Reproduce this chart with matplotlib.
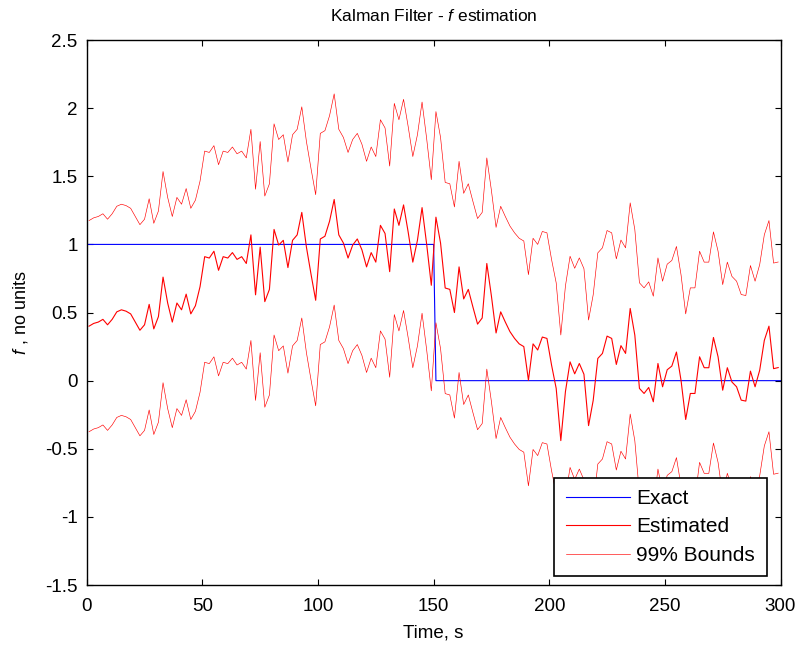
import matplotlib
matplotlib.use("Agg")
import matplotlib.pyplot as plt
import numpy as np

plt.rcParams['font.family'] = ['Liberation Sans', 'DejaVu Sans']
plt.rcParams['mathtext.fontset'] = 'custom'
plt.rcParams['mathtext.it'] = 'Liberation Sans:italic'
plt.rcParams['mathtext.rm'] = 'Liberation Sans'

# estimate sampled every 2 s, starting at t = 1 s
time = np.arange(1, 300, 2)
estimated = [
    0.40, 0.42, 0.43, 0.45, 0.41, 0.45, 0.505, 0.52, 0.51, 0.49,
    0.43, 0.37, 0.41, 0.56, 0.38, 0.47, 0.76, 0.57, 0.43, 0.57,
    0.52, 0.635, 0.49, 0.55, 0.69, 0.91,
    0.90, 0.95, 0.81, 0.91, 0.90, 0.94, 0.89, 0.91, 0.86, 1.07,
    0.63, 0.98, 0.58, 0.67, 1.11, 0.995, 1.03, 0.83, 1.03, 1.07,
    1.235, 0.98, 0.78, 0.59,
    1.04, 1.06, 1.17, 1.33, 1.07, 1.01, 0.90, 0.995, 1.04, 0.96,
    0.835, 0.94, 0.87, 1.14, 1.08, 0.80, 1.26, 1.14, 1.29, 1.09,
    0.87, 1.03, 1.27, 1.00, 0.70,
    1.20, 1.01, 0.68, 0.67, 0.50, 0.835, 0.60, 0.67, 0.54, 0.415,
    0.46, 0.86, 0.62, 0.35, 0.505, 0.43, 0.36, 0.31, 0.27, 0.25,
    0.003, 0.27, 0.225, 0.32, 0.31,
    0.114, -0.057, -0.44, -0.08, 0.138, 0.05, 0.126, 0.047, -0.33, -0.145,
    0.163, 0.20, 0.327, 0.31, 0.119, 0.257, 0.20, 0.53, 0.334, -0.057,
    -0.094, -0.05, -0.155, 0.126, -0.045,
    0.08, 0.107, 0.21, 0.0, -0.285, -0.094, -0.094, 0.175, 0.095, 0.095,
    0.317, 0.175, -0.07, 0.095, -0.01, -0.045, -0.143, -0.15, 0.07, -0.045,
    0.077, 0.296, 0.40, 0.088, 0.096,
]
bound_width = 0.775  # 99% half-width

exact_time = [0, 150, 151, 300]
exact = [1, 1, 0, 0]

est = np.array(estimated)

fig = plt.figure(figsize=(8.03, 6.46), dpi=100)
ax = fig.add_axes([0.108, 0.0944, 0.864, 0.8436])

ax.plot(exact_time, exact, color='blue', lw=0.8, label='Exact')
ax.plot(time, est, color='red', lw=0.8, label='Estimated')
ax.plot(time, est + bound_width, color='red', lw=0.45, label='99% Bounds')
ax.plot(time, est - bound_width, color='red', lw=0.45)

ax.set_xlim(0, 300)
ax.set_ylim(-1.5, 2.5)
ax.set_xticks(np.arange(0, 301, 50))
ax.set_yticks(np.arange(-1.5, 2.51, 0.5))
ax.set_yticklabels(['-1.5', '-1', '-0.5', '0', '0.5', '1', '1.5', '2', '2.5'])
ax.tick_params(direction='in', length=4, top=True, right=True, labelsize=13.5)
ax.tick_params(axis='x', pad=9)
ax.tick_params(axis='y', pad=6.5)
for s in ax.spines.values():
    s.set_linewidth(1.0)

ax.set_title(r'Kalman Filter - $f$ estimation', fontsize=12.5, pad=14)
ax.set_xlabel('Time, s', fontsize=13.5, labelpad=7)
ax.set_ylabel(r'$f$ , no units', fontsize=13, labelpad=11)

leg = ax.legend(loc='lower right', bbox_to_anchor=(0.98, 0.016), borderaxespad=0,
                fontsize=15, fancybox=False, framealpha=1, edgecolor='black',
                handlelength=3.1, handletextpad=0.3, labelspacing=0.45,
                borderpad=0.55)
leg.get_frame().set_linewidth(1.2)

fig.savefig('out.png', dpi=100)
